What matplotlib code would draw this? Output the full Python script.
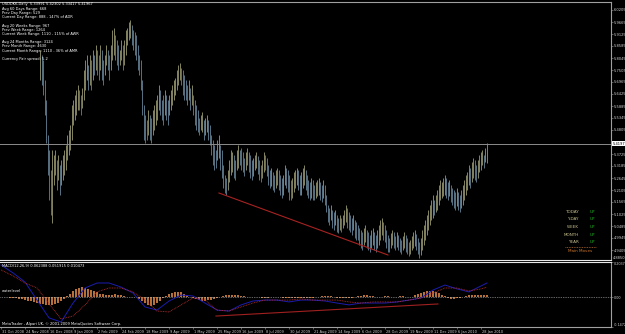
import numpy as np
import matplotlib
matplotlib.use("Agg")
import matplotlib.pyplot as plt
import matplotlib.transforms as mtransforms

# --- USDDKK daily bars (bar index 26 .. 324) ---
first_bar = 26
highs = [
    5.841, 5.818, 5.796, 5.706, 5.616, 5.458, 5.391, 5.301, 5.391, 5.368,
    5.391, 5.346, 5.368, 5.323, 5.346, 5.368, 5.391, 5.413, 5.458, 5.481,
    5.503, 5.593, 5.616, 5.638, 5.661, 5.683, 5.661, 5.638, 5.670, 5.751,
    5.796, 5.818, 5.773, 5.818, 5.796, 5.841, 5.818, 5.863, 5.841, 5.818,
    5.863, 5.841, 5.796, 5.818, 5.863, 5.841, 5.818, 5.863, 5.931, 5.940,
    5.908, 5.886, 5.863, 5.841, 5.886, 5.863, 5.886, 5.931, 5.940, 5.967,
    5.976, 5.953, 5.931, 5.922, 5.908, 5.863, 5.818, 5.796, 5.706, 5.593,
    5.548, 5.526, 5.571, 5.548, 5.535, 5.571, 5.593, 5.616, 5.638, 5.683,
    5.661, 5.616, 5.638, 5.661, 5.638, 5.616, 5.638, 5.661, 5.683, 5.706,
    5.715, 5.751, 5.773, 5.782, 5.760, 5.751, 5.728, 5.706, 5.683, 5.706,
    5.670, 5.683, 5.638, 5.616, 5.593, 5.571, 5.535, 5.548, 5.562, 5.526,
    5.535, 5.548, 5.526, 5.503, 5.458, 5.436, 5.413, 5.391, 5.436, 5.458,
    5.413, 5.391, 5.323, 5.278, 5.265, 5.301, 5.346, 5.391, 5.382, 5.368,
    5.346, 5.391, 5.413, 5.391, 5.400, 5.382, 5.355, 5.382, 5.400, 5.382,
    5.368, 5.346, 5.355, 5.368, 5.382, 5.364, 5.346, 5.323, 5.346, 5.382,
    5.368, 5.355, 5.323, 5.301, 5.310, 5.292, 5.278, 5.301, 5.310, 5.301,
    5.278, 5.265, 5.278, 5.323, 5.310, 5.301, 5.278, 5.256, 5.265, 5.292,
    5.301, 5.310, 5.301, 5.278, 5.292, 5.310, 5.323, 5.301, 5.278, 5.256,
    5.247, 5.265, 5.256, 5.233, 5.247, 5.256, 5.265, 5.247, 5.233, 5.256,
    5.233, 5.188, 5.143, 5.130, 5.143, 5.121, 5.112, 5.121, 5.098, 5.085,
    5.098, 5.085, 5.098, 5.121, 5.143, 5.130, 5.112, 5.098, 5.085, 5.098,
    5.076, 5.067, 5.053, 5.040, 5.031, 5.022, 5.040, 5.053, 5.031, 5.022,
    5.008, 5.031, 5.040, 5.022, 5.008, 5.031, 5.053, 5.076, 5.085, 5.067,
    5.053, 5.031, 5.008, 4.995, 5.017, 5.031, 5.022, 5.004, 5.022, 5.008,
    4.995, 4.986, 5.004, 5.022, 5.008, 4.995, 4.977, 4.986, 5.004, 5.022,
    5.031, 5.013, 4.995, 4.977, 4.995, 5.031, 5.053, 5.076, 5.098, 5.121,
    5.143, 5.166, 5.188, 5.166, 5.188, 5.211, 5.233, 5.256, 5.247, 5.265,
    5.278, 5.265, 5.247, 5.256, 5.233, 5.220, 5.211, 5.202, 5.220, 5.202,
    5.188, 5.211, 5.233, 5.256, 5.278, 5.292, 5.323, 5.310, 5.337, 5.355,
    5.346, 5.323, 5.346, 5.368, 5.382, 5.391, 5.368, 5.400, 5.423,
]
lows = [
    5.706, 5.683, 5.638, 5.548, 5.422, 5.278, 5.166, 5.098, 5.062, 5.233,
    5.278, 5.211, 5.256, 5.188, 5.233, 5.256, 5.278, 5.301, 5.346, 5.368,
    5.391, 5.436, 5.503, 5.526, 5.548, 5.571, 5.571, 5.548, 5.580, 5.616,
    5.661, 5.706, 5.661, 5.683, 5.661, 5.706, 5.728, 5.751, 5.728, 5.706,
    5.751, 5.706, 5.683, 5.728, 5.773, 5.751, 5.706, 5.751, 5.796, 5.818,
    5.796, 5.773, 5.751, 5.773, 5.796, 5.751, 5.773, 5.818, 5.863, 5.886,
    5.895, 5.863, 5.841, 5.818, 5.796, 5.751, 5.728, 5.661, 5.548, 5.436,
    5.422, 5.436, 5.458, 5.436, 5.422, 5.458, 5.481, 5.503, 5.526, 5.571,
    5.548, 5.526, 5.503, 5.548, 5.526, 5.503, 5.548, 5.571, 5.593, 5.616,
    5.638, 5.661, 5.683, 5.706, 5.683, 5.638, 5.616, 5.616, 5.593, 5.616,
    5.571, 5.593, 5.548, 5.503, 5.481, 5.472, 5.458, 5.481, 5.472, 5.436,
    5.458, 5.472, 5.436, 5.413, 5.368, 5.323, 5.301, 5.310, 5.346, 5.355,
    5.301, 5.265, 5.220, 5.197, 5.188, 5.211, 5.247, 5.278, 5.292, 5.265,
    5.256, 5.301, 5.310, 5.323, 5.301, 5.292, 5.274, 5.301, 5.323, 5.292,
    5.265, 5.256, 5.274, 5.301, 5.310, 5.283, 5.256, 5.247, 5.265, 5.292,
    5.301, 5.274, 5.233, 5.220, 5.229, 5.211, 5.202, 5.220, 5.233, 5.211,
    5.188, 5.175, 5.188, 5.233, 5.220, 5.202, 5.166, 5.166, 5.175, 5.202,
    5.220, 5.233, 5.211, 5.188, 5.188, 5.220, 5.233, 5.211, 5.188, 5.175,
    5.166, 5.175, 5.166, 5.166, 5.175, 5.184, 5.188, 5.166, 5.157, 5.175,
    5.143, 5.112, 5.067, 5.053, 5.076, 5.040, 5.031, 5.053, 5.022, 5.017,
    5.031, 5.022, 5.040, 5.053, 5.067, 5.040, 5.031, 5.022, 5.008, 5.031,
    4.995, 4.986, 4.986, 4.963, 4.950, 4.941, 4.963, 4.977, 4.950, 4.941,
    4.932, 4.950, 4.963, 4.941, 4.932, 4.950, 4.963, 4.986, 5.008, 4.986,
    4.977, 4.950, 4.932, 4.932, 4.950, 4.963, 4.950, 4.941, 4.954, 4.941,
    4.932, 4.923, 4.941, 4.950, 4.932, 4.923, 4.914, 4.923, 4.941, 4.950,
    4.959, 4.941, 4.923, 4.905, 4.918, 4.941, 4.963, 4.986, 5.008, 5.031,
    5.053, 5.076, 5.085, 5.098, 5.112, 5.121, 5.143, 5.166, 5.175, 5.184,
    5.188, 5.175, 5.166, 5.184, 5.157, 5.143, 5.130, 5.121, 5.139, 5.121,
    5.112, 5.130, 5.143, 5.166, 5.188, 5.211, 5.233, 5.220, 5.247, 5.265,
    5.256, 5.247, 5.265, 5.292, 5.301, 5.323, 5.310, 5.337, 5.334,
]
last_close = 5.41967

price_ticks = [6.0205, 5.9665, 5.9125, 5.8585, 5.8045, 5.7505, 5.6965, 5.6425,
               5.5885, 5.5345, 5.4805, 5.3725, 5.3185, 5.2645, 5.2105, 5.1565,
               5.1025, 5.0485, 4.9945, 4.9405]

# MACD(12,26,9) lines, read every 8 bars
macd_x = [0, 8, 16, 24, 32, 40, 48, 56, 64, 72, 80, 88, 96, 104, 112, 120, 128,
          136, 144, 152, 160, 168, 176, 184, 192, 200, 208, 216, 224, 232, 240,
          248, 256, 264, 272, 280, 288, 296, 304, 312, 320, 324]
macd_main = [0.174, 0.131, 0.082, -0.015, -0.111, -0.133, -0.031, 0.050, 0.077,
             0.077, 0.055, 0.023, -0.052, -0.069, -0.020, 0.012, 0.007, -0.031,
             -0.069, -0.074, -0.041, -0.020, -0.015, -0.015, -0.025, -0.015,
             -0.015, -0.020, -0.031, -0.041, -0.031, -0.031, -0.031, -0.025,
             -0.015, -0.004, 0.039, 0.066, 0.045, 0.029, 0.061, 0.077]
macd_signal = [0.147, 0.115, 0.077, 0.050, -0.036, -0.117, -0.101, -0.041, 0.029,
               0.050, 0.050, 0.029, -0.015, -0.074, -0.079, -0.041, -0.004,
               -0.015, -0.069, -0.074, -0.052, -0.031, -0.015, -0.015, -0.015,
               -0.009, -0.015, -0.015, -0.015, -0.025, -0.031, -0.025, -0.025,
               -0.025, -0.015, -0.004, 0.023, 0.050, 0.050, 0.034, 0.045, 0.055]

# histogram, every second bar (0, 2, ..., 324)
hist_vals = [
    0.003, 0.004, 0.002, -0.002, -0.004, -0.006, -0.008, -0.010, -0.014, -0.018,
    -0.022, -0.026, -0.030, -0.034, -0.038, -0.040, -0.042, -0.040, -0.035, -0.030,
    -0.020, -0.010, 0.005, 0.020, 0.035, 0.045, 0.052, 0.055, 0.052, 0.046,
    0.040, 0.033, 0.026, 0.020, 0.016, 0.014, 0.012, 0.015, 0.017, 0.014,
    0.010, 0.006, 0.003, 0.002, 0.004, 0.002, -0.008, -0.020, -0.032, -0.042,
    -0.045, -0.040, -0.030, -0.018, -0.005, 0.008, 0.018, 0.025, 0.029, 0.030,
    0.026, 0.020, 0.012, 0.004, -0.004, -0.010, -0.016, -0.020, -0.019, -0.016,
    -0.012, -0.008, -0.004, 0.002, 0.006, 0.010, 0.013, 0.015, 0.014, 0.011,
    0.008, 0.006, 0.004, 0.002, 0.003, 0.004, 0.002, -0.002, -0.003, -0.002,
    0.002, 0.004, 0.003, 0.001, -0.002, -0.003, -0.004, -0.005, -0.004, -0.003,
    -0.004, -0.005, -0.004, -0.003, -0.002, 0.002, 0.004, 0.006, 0.008, 0.007,
    0.005, 0.003, -0.002, -0.004, -0.006, -0.005, -0.003, -0.002, 0.003, 0.006,
    0.009, 0.011, 0.010, 0.008, 0.005, 0.003, 0.002, 0.004, 0.006, 0.005,
    0.003, 0.002, 0.004, 0.006, 0.005, 0.003, 0.002, 0.004, 0.010, 0.018,
    0.025, 0.030, 0.033, 0.034, 0.032, 0.028, 0.022, 0.015, 0.006, -0.003,
    -0.007, -0.008, -0.006, -0.002, 0.004, 0.009, 0.012, 0.014, 0.013, 0.011,
    0.012, 0.011, 0.010,
]

# drawn trendlines
trend_x = [145.3, 258.0]
trend_y = [5.197, 4.918]
macd_trend_x = [143.3, 291.3]
macd_trend_y = [-0.101, -0.036]

date_labels = ["31 Oct 2008", "24 Nov 2008", "16 Dec 2008", "9 Jan 2009",
               "2 Feb 2009", "24 Feb 2009", "18 Mar 2009", "9 Apr 2009",
               "1 May 2009", "25 May 2009", "16 Jun 2009", "8 Jul 2009",
               "30 Jul 2009", "21 Aug 2009", "14 Sep 2009", "6 Oct 2009",
               "28 Oct 2009", "19 Nov 2009", "11 Dec 2009", "6 Jan 2010",
               "28 Jan 2010"]
date_pos = list(range(0, 321, 16))

info_lines = ["USDDKK,Daily  5.33991 5.42302 5.33417 5.41967",
              "Avg 60 Days Range: 668",
              "Prev Day Range: 529",
              "Current Day Range: 888 - 147% of ADR",
              "",
              "Avg 20 Weeks Range: 967",
              "Prev Week Range: 1264",
              "Current Week Range: 1110 - 115% of AWR",
              "",
              "Avg 24 Months Range: 3124",
              "Prev Month Range: 4630",
              "Current Month Range: 1110 - 36% of AMR",
              "",
              "Currency Pair spread: 5.2"]
moves_labels = ["TODAY", "Y-DAY", "WEEK", "MONTH", "YEAR"]
moves_values = ["UP", "UP", "UP", "UP", "UP"]

# --- styles ---
BG = "black"
FG = "#d0d0d0"
AXIS = "#a0a0a0"
UP_COL = "#a8a87c"
DN_COL = "#7090a6"

W, H = 625, 334
fig = plt.figure(figsize=(W / 100, H / 100), dpi=100, facecolor=BG)

ax = fig.add_axes([0, 74 / H, 611 / W, 258 / H])
ax.set_facecolor(BG)
ax.set_xlim(-0.7, 406.7)
ax.set_ylim(4.8955, 6.0565)

hi = np.array(highs)
lo = np.array(lows)
bx = np.arange(first_bar, first_bar + len(hi))
mid = (hi + lo) / 2
rising = np.concatenate([[True], mid[1:] >= mid[:-1]])
cols = np.where(rising, UP_COL, DN_COL)
ax.vlines(bx, lo, hi, colors=cols, lw=0.55)

ax.axhline(last_close, color="#8c8c8c", lw=0.7)
ax.plot(trend_x, trend_y, color="#a82222", lw=0.8)

ax.yaxis.tick_right()
ax.set_yticks(price_ticks)
ax.set_yticklabels([f"{v:.4f}" for v in price_ticks])
ax.tick_params(axis="y", labelsize=2.6, labelcolor=FG, color=AXIS, length=1.2,
               width=0.4, pad=0.6)
ax.set_xticks([])
ax.spines["left"].set_visible(False)
ax.spines["top"].set_color(AXIS)
ax.spines["right"].set_color(AXIS)
ax.spines["bottom"].set_color("#e8e8e8")
for s in ["top", "right", "bottom"]:
    ax.spines[s].set_linewidth(0.8)

# current price box
trans = mtransforms.blended_transform_factory(ax.transAxes, ax.transData)
ax.text(1.003, last_close, "5.4197", transform=trans, fontsize=2.6,
        color="black", va="center", ha="left", clip_on=False,
        bbox=dict(facecolor="white", edgecolor="none", pad=0.4))
ax.text(1.003, 4.8955, "4.8850", transform=trans, fontsize=2.6, color=FG,
        va="bottom", ha="left", clip_on=False)

# info text, top left
for k, line in enumerate(info_lines):
    ax.text(2 / 611, 1 - (2.5 + 4.2 * k) / 258, line, transform=ax.transAxes,
            fontsize=2.6, color="white", va="center", ha="left")

# trend table, right side
for k, (lab, val) in enumerate(zip(moves_labels, moves_values)):
    yy = (260 - (212 + 7.5 * k)) / 258
    ax.text(579 / 611, yy, lab, transform=ax.transAxes, fontsize=3.0,
            color="#c8c090", ha="right", va="center")
    ax.text(590 / 611, yy, val, transform=ax.transAxes, fontsize=3.0,
            color="#1fb81f", ha="left", va="center")
ax.plot([565 / 611, 596 / 611], [13 / 258, 13 / 258], transform=ax.transAxes,
        color="#b06a30", lw=0.6, ls=(0, (1, 1)))
ax.text(580 / 611, 9 / 258, "Main Moves", transform=ax.transAxes, fontsize=3.0,
        color="#d2782c", ha="center", va="center")

# --- MACD window ---
ax2 = fig.add_axes([0, 7 / H, 611 / W, 65 / H])
ax2.set_facecolor(BG)
ax2.set_xlim(-0.7, 406.7)
ax2.set_ylim(-0.16, 0.19)
hx = np.arange(0, 325, 2)
ax2.bar(hx, hist_vals, width=1.0, color="#b8703a", lw=0)
ax2.axhline(0, color="#c8c8c8", lw=0.5, ls=(0, (1, 1.5)))
ax2.plot(macd_x, macd_main, color="#1c1cb0", lw=0.7)
ax2.plot(macd_x, macd_signal, color="#c03030", lw=0.6, ls=(0, (1, 1)))
ax2.plot(macd_trend_x, macd_trend_y, color="#a02020", lw=0.8)

ax2.yaxis.tick_right()
ax2.set_yticks([0.19, 0.0, -0.16])
ax2.set_yticklabels(["0.2037", "0.00", "-0.1472"])
ax2.tick_params(axis="y", labelsize=2.4, labelcolor=FG, color=AXIS, length=1.2,
                width=0.4, pad=0.5)
labs = ax2.get_yticklabels()
labs[0].set_va("top")
labs[2].set_va("bottom")

# time axis: ticks, labels on a shared baseline
ax2.set_xticks(date_pos)
ax2.set_xticklabels([])
ax2.tick_params(axis="x", color=AXIS, length=1.2, width=0.4)
xtrans = mtransforms.blended_transform_factory(ax2.transData, ax2.transAxes)
for pos, lab in zip(date_pos, date_labels):
    ax2.text(pos + 0.6, -0.085, lab, transform=xtrans, fontsize=2.5, color=FG,
             ha="left", va="baseline", clip_on=False)

ax2.spines["left"].set_visible(False)
for s in ["top", "right", "bottom"]:
    ax2.spines[s].set_color(AXIS)
    ax2.spines[s].set_linewidth(0.8)
ax2.spines["top"].set_color("#e8e8e8")

ax2.text(2 / 611, 0.94, "MACD(12,26,9) 0.062388 0.051915 0.010473",
         transform=ax2.transAxes, fontsize=2.6, color="white", va="center")
ax2.text(2 / 611, 0.55, "waterlevel", transform=ax2.transAxes, fontsize=2.6,
         color="white", va="center")
ax2.text(2 / 611, 0.05, "MetaTrader - Alpari UK, \u00a9 2001-2009 MetaQuotes Software Corp.",
         transform=ax2.transAxes, fontsize=2.6, color="white", va="center")

fig.savefig("out.png", dpi=100, facecolor=BG)
